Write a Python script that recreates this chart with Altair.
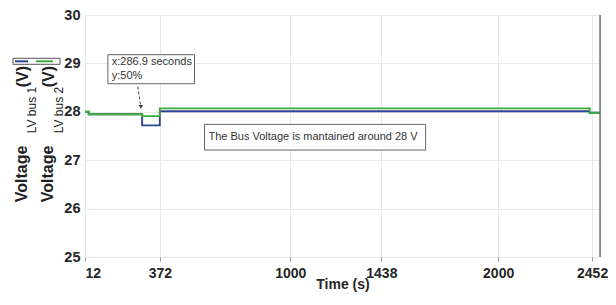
import altair as alt
import pandas as pd

# ---- data ----
time_s = [12, 30, 286.9, 372, 2440, 2490]
bus1_v = [28.00, 27.95, 27.72, 28.01, 27.98, 27.98]
bus2_v = [28.00, 27.95, 27.91, 28.07, 27.98, 27.98]
x_ticks = [12, 372, 1000, 1438, 2000, 2452]
y_ticks = [25, 26, 27, 28, 29, 30]
x_domain = [12, 2490]
y_domain = [25, 30]

FONT = "Liberation Sans"
BLUE = "#2f4593"
GREEN = "#3cab3c"

lines_df = pd.DataFrame(
    [{"t": t, "v": v, "s": "bus1"} for t, v in zip(time_s, bus1_v)]
    + [{"t": t, "v": v, "s": "bus2"} for t, v in zip(time_s, bus2_v)]
)

X = alt.X("t:Q", title="Time (s)",
          scale=alt.Scale(domain=x_domain, nice=False, zero=False),
          axis=alt.Axis(values=x_ticks, format="d", labelFontSize=14, labelFontWeight="bold",
                        labelColor="#262626", labelPadding=5, tickSize=4, tickColor="#999999",
                        domain=False, grid=True, gridColor="#e8e8e8",
                        titleFontSize=14, titleFontWeight="bold", titleColor="#262626",
                        titleY=20, labelFont=FONT, titleFont=FONT))
Y = alt.Y("v:Q", title=None,
          scale=alt.Scale(domain=y_domain, nice=False, zero=False),
          axis=alt.Axis(values=y_ticks, labelFontSize=14.5, labelFontWeight="bold",
                        labelColor="#262626", labelPadding=5, tickSize=0,
                        domain=False, grid=True, gridColor="#e8e8e8", labelFont=FONT))

lines = alt.Chart(lines_df).mark_line(interpolate="step-after", strokeWidth=1.9).encode(
    x=X, y=Y,
    color=alt.Color("s:N", scale=alt.Scale(domain=["bus1", "bus2"], range=[BLUE, GREEN]), legend=None),
    order=alt.Order("s:N"),
)

right_df = pd.DataFrame({"t": [x_domain[1]]})
right_spine = alt.Chart(right_df).mark_rule(color="#555555", strokeWidth=1.2).encode(x=X)

# annotation boxes (data coordinates)
box_df = pd.DataFrame({"t": [122, 587], "t2": [539, 1651], "v": [29.18, 27.74], "v2": [28.58, 27.21]})
boxes = alt.Chart(box_df).mark_rect(fill="white", stroke="#666666", strokeWidth=1).encode(
    x=X, x2="t2:Q", y=Y, y2="v2:Q")

ann_df = pd.DataFrame({
    "t": [141, 141, 606],
    "v": [29.02, 28.73, 27.48],
    "label": ["x:286.9 seconds", "y:50%", "The Bus Voltage is mantained around 28 V"],
})
ann_text = alt.Chart(ann_df).mark_text(align="left", baseline="middle", fontSize=11,
                                       font=FONT, color="#333333").encode(x=X, y=Y, text="label:N")

arrow_df = pd.DataFrame({"t": [266, 280], "v": [28.52, 28.13]})
arrow = alt.Chart(arrow_df).mark_line(strokeDash=[3, 2], color="#444444", strokeWidth=1).encode(x=X, y=Y)
head_df = pd.DataFrame({"t": [281], "v": [28.10]})
head = alt.Chart(head_df).mark_point(shape="triangle-down", filled=True, size=18,
                                     color="#333333", opacity=1).encode(x=X, y=Y)

# legend box and rotated titles at the left (pixel positions)
dummy = pd.DataFrame({"a": [0]})
leg_box = alt.Chart(dummy).mark_rect(fill="white", stroke="#555555", strokeWidth=1).encode(
    x=alt.value(-72), x2=alt.value(-25), y=alt.value(43.3), y2=alt.value(49.3))
leg_blue = alt.Chart(dummy).mark_rule(color=BLUE, strokeWidth=2).encode(
    x=alt.value(-70), x2=alt.value(-57), y=alt.value(46.3))
leg_green = alt.Chart(dummy).mark_rule(color=GREEN, strokeWidth=2).encode(
    x=alt.value(-49), x2=alt.value(-32), y=alt.value(46.3))

def vtext(txt, x, y, size, weight):
    return alt.Chart(dummy).mark_text(angle=270, align="left", baseline="middle", fontSize=size,
                                      fontWeight=weight, font=FONT, color="#222222").encode(
        x=alt.value(x), y=alt.value(y), text=alt.value(txt))

titles = [
    vtext("Voltage", -63.5, 187.3, 16, "bold"),
    vtext("LV bus 1", -53, 118.3, 12, "normal"),
    vtext("(V)", -62.5, 72.3, 16, "bold"),
    vtext("Voltage", -37.5, 187.3, 16, "bold"),
    vtext("LV bus 2", -26.5, 118.3, 12, "normal"),
    vtext("(V)", -36.5, 72.3, 16, "bold"),
]

chart = alt.layer(
    lines, right_spine, boxes, ann_text, arrow, head,
    leg_box, leg_blue, leg_green, *titles
).properties(
    width=515, height=242,
    autosize=alt.AutoSizeParams(type="none"),
    padding={"left": 77, "top": 7, "right": 8, "bottom": 40},
).configure_view(stroke="#c8c8c8", strokeWidth=1).configure(background="white")

chart.save("out.html", embed_options={"renderer": "svg", "actions": False})
